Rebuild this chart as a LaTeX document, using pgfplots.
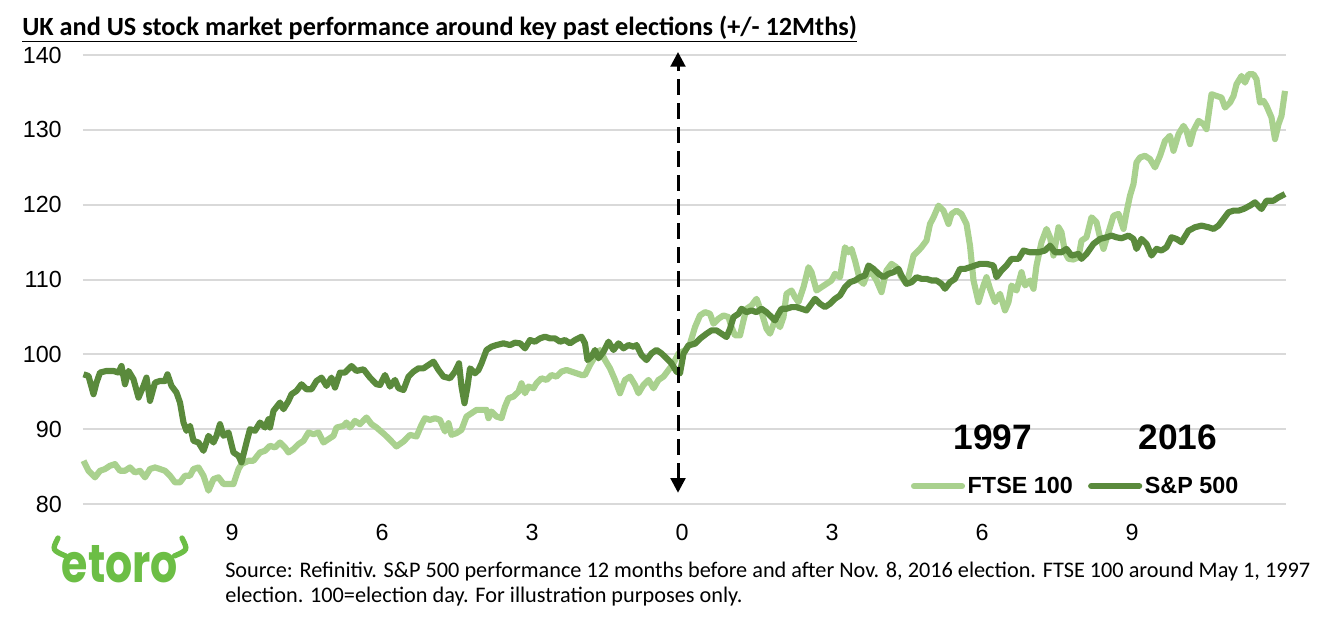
\documentclass[border=0pt]{standalone}
\usepackage{pgfplots}
\pgfplotsset{compat=1.18}
\usepackage{fontspec}
\setmainfont{Liberation Sans}
\newfontfamily\calibri{Carlito}
\newfontfamily\poppins{Poppins}
\usetikzlibrary{arrows.meta}
\definecolor{ftse}{HTML}{A9D18E}
\definecolor{spx}{HTML}{5A8A3C}
\definecolor{gridc}{HTML}{D9D9D9}
\definecolor{etoro}{HTML}{6CBE45}
\begin{document}
\begin{tikzpicture}[x=1pt,y=1pt]
\path[use as bounding box] (-62.25pt,-91.5pt) rectangle (936.75pt,378pt);
\begin{axis}[
 at={(0pt,0pt)}, anchor=south west,
 scale only axis, width=902.25pt, height=336.75pt,
 xmin=-11.98, xmax=12.08, ymin=80, ymax=140,
 xtick={-9,-6,-3,0,3,6,9}, xticklabels={9,6,3,0,3,6,9},
 ytick={80,90,...,140},
 ymajorgrids, grid style={gridc, line width=1.5pt},
 axis line style={draw=none},
 major tick length=0pt,
 tick label style={font=\fontsize{17.5}{20}\selectfont, inner sep=0pt},
 /pgf/number format/assume math mode=true,
 yticklabel style={anchor=east, xshift=-15.75pt},
 xticklabel style={anchor=north, yshift=-14.6pt},
 clip=false,
 legend style={draw=none, fill=none, at={(axis description cs:0.688,0.04)}, anchor=west,
   legend columns=2, font=\fontsize{17.5}{20}\selectfont\bfseries, inner sep=0pt,
   /tikz/every even column/.append style={column sep=9.5pt}, cells={anchor=west}},
 legend image code/.code={\draw[#1, line cap=round] (2pt,0pt) -- (38pt,0pt);},
]
\addplot[ftse, line width=4.6pt, line join=round] coordinates {
(-11.97,85.78)(-11.87,84.44)(-11.74,83.56)(-11.64,84.44)(-11.54,84.67)(-11.44,85.11)(-11.34,85.33)(-11.24,84.44)(-11.14,84.44)(-11.04,84.89)(-10.94,84.22)(-10.84,84.44)(-10.74,83.56)(-10.64,84.67)(-10.54,84.89)(-10.44,84.67)(-10.34,84.44)(-10.24,83.78)(-10.14,82.89)(-10.04,82.89)(-9.94,83.78)(-9.84,83.78)(-9.77,84.67)(-9.67,84.89)(-9.57,83.78)(-9.47,81.78)(-9.37,83.33)(-9.27,83.56)(-9.17,82.67)(-9.04,82.67)(-8.97,82.67)(-8.87,84.67)(-8.81,85.33)(-8.67,85.78)(-8.57,85.78)(-8.44,86.89)(-8.34,87.11)(-8.24,87.78)(-8.14,87.56)(-8.04,88.22)(-7.94,87.56)(-7.87,86.89)(-7.77,87.33)(-7.67,88.0)(-7.57,88.44)(-7.47,89.56)(-7.37,89.33)(-7.27,89.56)(-7.17,88.22)(-7.07,88.67)(-6.97,89.11)(-6.91,90.22)(-6.77,90.44)(-6.71,90.89)(-6.64,90.22)(-6.54,91.11)(-6.44,90.67)(-6.31,91.56)(-6.21,90.67)(-6.11,90.22)
(-5.94,89.24)(-5.84,88.58)(-5.71,87.69)(-5.57,88.36)(-5.44,89.24)(-5.31,89.02)(-5.21,90.58)(-5.14,91.47)(-5.04,91.24)(-4.94,91.47)(-4.84,91.24)(-4.74,89.69)(-4.67,90.8)(-4.61,89.24)(-4.51,89.47)(-4.41,89.91)(-4.31,91.69)(-4.21,92.13)(-4.11,92.58)(-4.01,92.58)(-3.91,92.58)(-3.87,91.47)(-3.81,92.36)(-3.71,91.69)(-3.61,91.47)(-3.54,93.02)(-3.47,94.13)(-3.37,94.36)(-3.27,95.02)(-3.21,96.13)(-3.14,94.8)(-3.07,95.69)(-2.97,95.47)(-2.91,96.13)(-2.81,96.8)(-2.71,96.58)(-2.61,97.24)(-2.51,97.02)(-2.41,97.69)(-2.31,97.91)(-2.21,97.69)(-2.11,97.47)(-2.01,97.24)(-1.94,97.24)(-1.84,98.58)(-1.74,99.69)(-1.64,100.58)(-1.54,99.24)(-1.44,98.13)(-1.34,96.58)(-1.24,94.8)(-1.14,96.58)(-1.04,97.02)(-0.94,95.91)(-0.87,94.8)(-0.77,95.91)(-0.67,96.58)(-0.57,95.47)(-0.47,96.58)(-0.37,97.02)(-0.27,97.91)(-0.17,98.8)(-0.07,100.13)
(0.06,100.53)(0.16,101.42)(0.26,103.64)(0.36,105.2)(0.46,105.64)(0.56,105.42)(0.63,104.09)(0.73,104.76)(0.83,105.2)(0.93,104.98)(0.99,103.64)(1.06,102.53)(1.16,102.53)(1.23,104.53)(1.29,106.09)(1.39,106.53)(1.49,107.42)(1.59,105.64)(1.69,103.42)(1.76,102.76)(1.86,104.53)(1.96,103.64)(2.03,104.98)(2.09,108.09)(2.19,108.53)(2.26,107.64)(2.33,106.98)(2.43,108.98)(2.53,111.64)(2.59,110.98)(2.69,108.53)(2.79,108.98)(2.89,109.42)(2.99,109.87)(3.06,110.76)(3.16,110.31)(3.26,114.31)(3.33,113.64)(3.39,114.09)(3.46,112.53)(3.56,109.87)(3.63,109.42)(3.69,110.53)(3.79,110.98)(3.89,109.87)(3.99,108.31)(4.09,111.2)(4.19,112.09)(4.29,111.64)(4.39,110.31)(4.49,109.42)(4.56,111.2)(4.63,113.2)(4.73,113.87)(4.79,114.31)(4.89,115.2)(4.96,117.42)(5.03,118.31)(5.13,119.87)(5.23,119.2)(5.33,117.42)(5.39,118.76)(5.49,119.2)(5.59,118.76)(5.69,117.42)(5.76,114.53)(5.83,109.87)(5.93,106.98)
(6.03,109.2)(6.09,110.31)(6.16,108.76)(6.26,106.98)(6.36,108.09)(6.46,105.87)(6.53,106.98)(6.59,109.2)(6.69,108.53)(6.79,110.98)(6.86,109.2)(6.96,109.87)(7.03,108.76)(7.09,111.87)(7.19,114.98)(7.29,116.76)(7.36,115.64)(7.43,113.2)(7.53,116.98)(7.59,116.31)(7.66,113.64)(7.73,112.76)(7.83,112.67)(7.93,112.98)(7.99,115.2)(8.09,115.64)(8.19,118.31)(8.29,117.64)(8.36,115.64)(8.43,114.09)(8.53,116.31)(8.63,118.53)(8.73,118.76)(8.83,116.76)(8.89,118.98)(8.96,121.2)(9.03,122.76)(9.09,125.64)(9.16,126.31)(9.26,126.53)(9.36,126.09)(9.46,124.98)(9.56,126.53)(9.66,128.53)(9.76,129.2)(9.83,127.2)(9.93,129.42)(10.03,130.53)(10.09,129.87)(10.16,128.09)(10.23,129.87)(10.33,131.2)(10.43,130.76)(10.49,130.09)(10.59,134.76)(10.69,134.53)(10.79,134.31)(10.86,132.98)(10.96,133.64)(11.03,134.53)(11.09,136.09)(11.19,137.2)(11.26,136.31)(11.33,137.42)(11.43,137.42)(11.49,136.76)(11.56,133.64)(11.63,133.87)(11.69,133.2)(11.79,131.64)(11.86,128.76)(11.93,130.76)(11.99,131.87)(12.06,135.2)
};
\addlegendentry{FTSE 100}
\addplot[spx, line width=4.6pt, line join=round] coordinates {
(-11.97,97.33)(-11.87,97.11)(-11.77,94.67)(-11.71,96.22)(-11.64,97.56)(-11.51,97.78)(-11.37,97.78)(-11.27,97.56)(-11.21,98.44)(-11.14,96.0)(-11.07,97.78)(-10.97,96.67)(-10.87,94.22)(-10.77,95.78)(-10.71,96.89)(-10.64,93.78)(-10.54,96.22)(-10.44,96.44)(-10.34,96.44)(-10.29,97.33)(-10.21,95.78)(-10.11,94.89)(-10.04,93.56)(-9.97,90.89)(-9.91,89.78)(-9.84,90.44)(-9.77,88.44)(-9.67,88.22)(-9.57,87.11)(-9.47,89.11)(-9.37,88.22)(-9.31,89.11)(-9.24,90.67)(-9.17,89.11)(-9.07,89.56)(-8.97,86.89)(-8.87,86.44)(-8.81,85.56)(-8.71,88.22)(-8.64,90.0)(-8.54,89.78)(-8.44,90.89)(-8.34,90.22)(-8.27,91.33)(-8.24,90.22)(-8.17,92.44)(-8.04,93.56)(-7.97,92.67)(-7.87,93.78)(-7.81,94.67)(-7.71,95.11)(-7.61,96.0)(-7.51,95.33)(-7.41,95.33)(-7.31,96.44)(-7.21,96.89)(-7.11,95.78)(-7.01,96.89)(-6.94,95.56)(-6.84,97.56)(-6.74,97.56)(-6.61,98.44)(-6.51,97.78)(-6.37,98.0)(-6.24,96.89)(-6.11,96.0)
(-6.04,95.91)(-5.94,97.24)(-5.84,95.69)(-5.74,96.58)(-5.67,95.47)(-5.57,95.24)(-5.47,97.02)(-5.37,97.69)(-5.27,98.13)(-5.17,98.13)(-5.07,98.58)(-4.97,99.02)(-4.87,97.91)(-4.77,97.02)(-4.64,96.8)(-4.54,97.69)(-4.46,98.8)(-4.41,95.69)(-4.35,93.47)(-4.29,95.69)(-4.24,98.13)(-4.14,97.47)(-4.07,97.91)(-4.01,98.8)(-3.91,100.58)(-3.81,101.02)(-3.71,101.24)(-3.57,101.47)(-3.44,101.24)(-3.34,101.56)(-3.24,101.47)(-3.14,100.8)(-3.04,101.91)(-2.94,101.69)(-2.84,102.13)(-2.74,102.36)(-2.64,102.13)(-2.54,102.13)(-2.44,101.69)(-2.34,101.91)(-2.24,101.47)(-2.14,101.91)(-2.01,102.36)(-1.94,101.47)(-1.89,99.24)(-1.81,99.69)(-1.74,100.58)(-1.67,99.47)(-1.57,100.36)(-1.47,101.69)(-1.37,100.58)(-1.27,101.47)(-1.17,100.8)(-1.07,101.24)(-0.97,101.02)(-0.91,101.24)(-0.81,99.91)(-0.71,99.24)(-0.61,100.13)(-0.51,100.58)(-0.41,100.13)(-0.31,99.47)(-0.21,98.8)(-0.11,97.69)(-0.04,97.47)
(0.03,100.09)(0.13,101.2)(0.26,101.42)(0.36,102.09)(0.49,102.76)(0.59,103.2)(0.69,103.2)(0.79,102.76)(0.89,102.31)(0.96,103.42)(1.03,104.98)(1.13,105.42)(1.19,106.09)(1.29,105.64)(1.39,105.87)(1.49,105.64)(1.59,106.09)(1.69,105.64)(1.79,104.98)(1.86,104.53)(1.93,105.42)(1.99,106.09)(2.09,106.09)(2.19,106.31)(2.29,106.31)(2.39,106.09)(2.49,105.87)(2.59,106.76)(2.66,107.42)(2.76,106.76)(2.86,106.31)(2.96,106.76)(3.06,107.42)(3.16,107.87)(3.26,108.98)(3.36,109.64)(3.46,109.87)(3.56,110.31)(3.66,110.53)(3.73,111.87)(3.83,111.42)(3.93,110.76)(4.03,110.31)(4.13,110.76)(4.23,110.98)(4.33,111.42)(4.39,110.53)(4.49,109.42)(4.59,109.64)(4.69,110.31)(4.79,110.09)(4.89,110.09)(4.99,109.87)(5.09,109.87)(5.19,109.42)(5.26,108.76)(5.36,109.64)(5.46,110.09)(5.56,111.42)(5.66,111.42)(5.76,111.64)(5.86,111.87)(5.96,112.09)
(6.09,112.09)(6.23,111.87)(6.29,110.31)(6.39,111.2)(6.49,111.87)(6.59,112.76)(6.73,112.76)(6.83,113.87)(6.96,113.64)(7.13,113.64)(7.26,113.87)(7.36,114.53)(7.46,113.64)(7.59,113.64)(7.69,114.09)(7.79,113.2)(7.93,113.42)(7.99,112.76)(8.09,113.42)(8.23,114.76)(8.36,115.42)(8.49,115.64)(8.59,115.87)(8.69,115.64)(8.79,115.51)(8.93,115.87)(9.03,115.42)(9.09,114.09)(9.19,115.42)(9.29,114.76)(9.39,113.2)(9.49,114.09)(9.59,113.87)(9.69,114.31)(9.79,115.64)(9.89,115.42)(9.99,114.98)(10.13,116.53)(10.26,116.98)(10.39,117.2)(10.53,116.98)(10.63,116.76)(10.73,117.2)(10.83,118.09)(10.93,118.98)(11.03,119.2)(11.13,119.2)(11.23,119.42)(11.36,119.87)(11.46,120.31)(11.59,119.42)(11.69,120.53)(11.83,120.53)(11.93,120.98)(12.06,121.42)
};
\addlegendentry{S\&P 500}
\draw[black, line width=2.25pt, dash pattern=on 12pt off 6pt,
  {Triangle[width=11pt,length=11pt]}-{Triangle[width=11pt,length=11pt]}]
  (axis cs:-0.08,81.5) -- (axis cs:-0.08,140.4);
\end{axis}
\node[font=\fontsize{26.5}{30}\selectfont\bfseries] at (682.5pt,50.25pt) {1997};
\node[font=\fontsize{26.5}{30}\selectfont\bfseries] at (821.25pt,50.25pt) {2016};
\node[anchor=base west, inner sep=0pt, font=\calibri\bfseries\fontsize{19.7}{23}\selectfont]
  at (-45.75pt,351.75pt) {\underline{UK and US stock market performance around key past elections (+/- 12Mths)}};
\node[anchor=base west, inner sep=0pt, font=\calibri\fontsize{16.7}{19}\selectfont]
  at (106.5pt,-54.75pt) {Source: Refinitiv. S\&P 500 performance 12 months before and after Nov. 8, 2016 election. FTSE 100 around May 1, 1997};
\node[anchor=base west, inner sep=0pt, font=\calibri\fontsize{16.7}{19}\selectfont]
  at (106.5pt,-73.5pt) {election. 100=election day. For illustration purposes only.};
\node[etoro, font=\poppins\bfseries\fontsize{40}{44}\selectfont] at (27.75pt,-45pt) {\scalebox{0.8}[1]{etoro}};
\draw[etoro, line width=4pt, line cap=round] (-18.75pt,-25.5pt) .. controls (-23.25pt,-34.5pt) .. (-13pt,-39pt);
\draw[etoro, line width=4pt, line cap=round] (74.25pt,-25.5pt) .. controls (78.75pt,-34.5pt) .. (68.5pt,-39pt);
\end{tikzpicture}
\end{document}
